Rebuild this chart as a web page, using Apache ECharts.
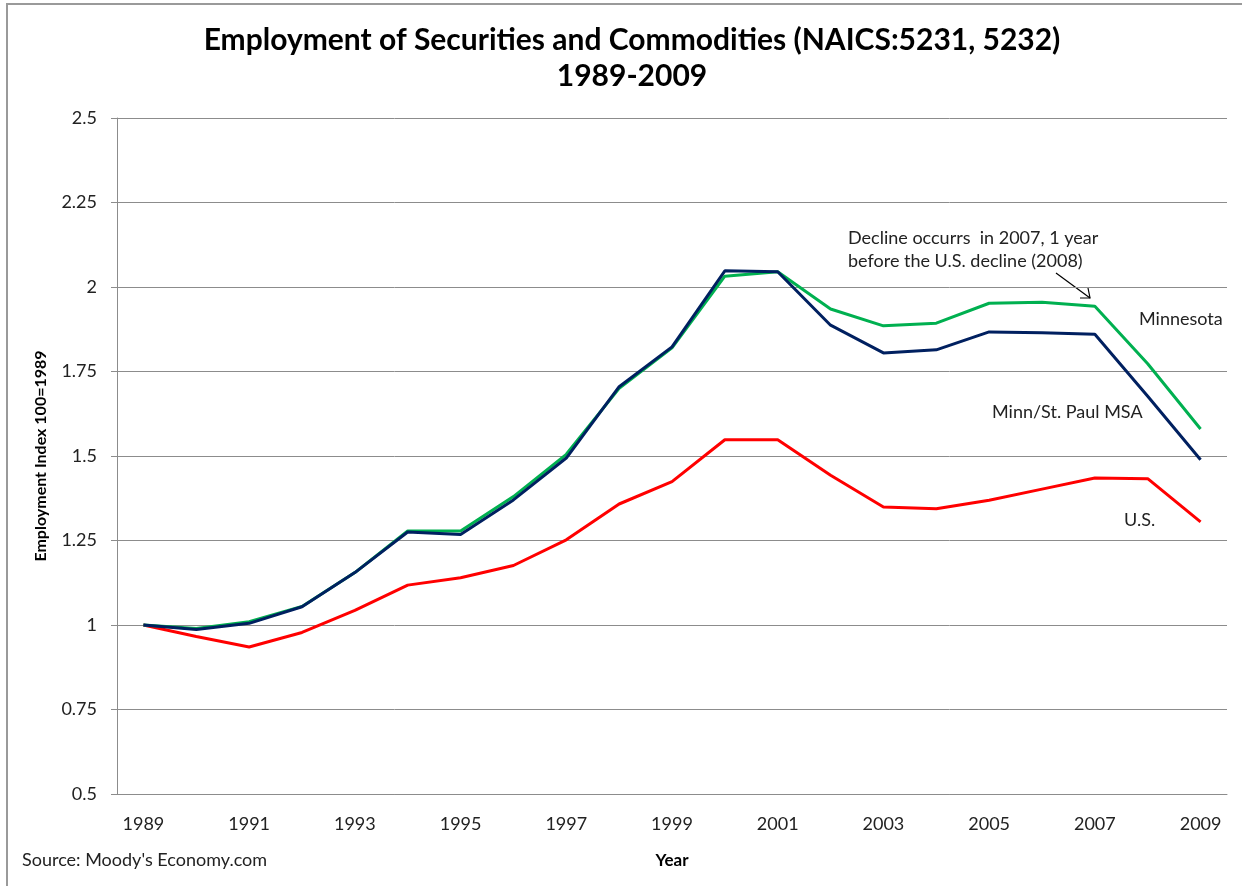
<!DOCTYPE html>
<html>
<head>
<meta charset="utf-8">
<script src="https://cdn.jsdelivr.net/npm/echarts@6/dist/echarts.min.js"></script>
<style>
  html, body { margin: 0; padding: 0; background: #fff; }
  #chart { width: 1242px; height: 886px; }
</style>
</head>
<body>
<div id="chart"></div>
<script>
// chart data
const years = ['1989', '1990', '1991', '1992', '1993', '1994', '1995', '1996', '1997', '1998', '1999',
  '2000', '2001', '2002', '2003', '2004', '2005', '2006', '2007', '2008', '2009'];
const usIndex = [1.0, 0.966, 0.935, 0.978, 1.043, 1.118, 1.14, 1.176, 1.252, 1.358, 1.424,
  1.548, 1.548, 1.443, 1.349, 1.344, 1.369, 1.402, 1.435, 1.433, 1.305];
const minnesotaIndex = [1.0, 0.99, 1.01, 1.055, 1.155, 1.278, 1.278, 1.38, 1.505, 1.70, 1.82,
  2.032, 2.045, 1.935, 1.885, 1.893, 1.952, 1.955, 1.943, 1.773, 1.58];
const msaIndex = [1.0, 0.987, 1.005, 1.054, 1.155, 1.275, 1.268, 1.37, 1.494, 1.705, 1.823,
  2.048, 2.045, 1.887, 1.805, 1.814, 1.867, 1.865, 1.86, 1.677, 1.489];
const yTicks = { min: 0.5, max: 2.5, step: 0.25 };

const font = 'Lato, "Open Sans", sans-serif';
const grey = '#8c8c8c';

const chart = echarts.init(document.getElementById('chart'));

const lineSeries = (name, data, color) => ({
  name,
  type: 'line',
  data,
  symbol: 'none',
  lineStyle: { color, width: 3 },
  itemStyle: { color },
  animation: false,
});

chart.setOption({
  backgroundColor: '#fff',
  textStyle: { fontFamily: font },
  title: {
    text: 'Employment of Securities and Commodities (NAICS:5231, 5232)\n1989-2009',
    left: 627,
    textAlign: 'center',
    top: 17,
    textStyle: { fontFamily: font, fontSize: 30, fontWeight: 'bold', color: '#000', lineHeight: 36 },
  },
  grid: { left: 117, right: 15, top: 118, bottom: 92, containLabel: false },
  xAxis: {
    type: 'category',
    data: years,
    boundaryGap: true,
    name: 'Year',
    nameLocation: 'middle',
    nameGap: 58,
    nameTextStyle: { fontFamily: font, fontSize: 17, fontWeight: 'bold', color: '#000' },
    axisLine: { lineStyle: { color: grey, width: 1 } },
    axisTick: { show: false },
    axisLabel: { interval: 1, margin: 21, fontSize: 18, color: '#222', fontFamily: font },
    splitLine: { show: false },
  },
  yAxis: {
    type: 'value',
    min: yTicks.min,
    max: yTicks.max,
    interval: yTicks.step,
    name: 'Employment Index 100=1989',
    nameLocation: 'middle',
    nameGap: 68,
    nameTextStyle: { fontFamily: font, fontSize: 16, fontWeight: 'bold', color: '#000' },
    axisLine: { show: true, lineStyle: { color: grey, width: 1 } },
    axisTick: { show: true, length: 6, lineStyle: { color: grey } },
    axisLabel: { margin: 20, fontSize: 18, color: '#222', fontFamily: font },
    splitLine: { lineStyle: { color: grey, width: 1 } },
  },
  series: [
    lineSeries('U.S.', usIndex, '#ff0000'),
    lineSeries('Minnesota', minnesotaIndex, '#00b050'),
    lineSeries('Minn/St. Paul MSA', msaIndex, '#002060'),
  ],
  graphic: [
    { type: 'rect', silent: true, shape: { x: 7, y: 4, width: 1260, height: 900 },
      style: { fill: 'none', stroke: '#9a9a9a', lineWidth: 2 } },
    { type: 'text', left: 22, top: 851,
      style: { text: "Source: Moody's Economy.com", font: '18px ' + font, fill: '#222' } },
    { type: 'text', left: 848, top: 227,
      style: { text: 'Decline occurrs  in 2007, 1 year\nbefore the U.S. decline (2008)', font: '18px ' + font,
        fill: '#222', lineHeight: 23 } },
    { type: 'text', left: 1139, top: 310,
      style: { text: 'Minnesota', font: '18px ' + font, fill: '#222' } },
    { type: 'text', left: 992, top: 403,
      style: { text: 'Minn/St. Paul MSA', font: '18px ' + font, fill: '#222' } },
    { type: 'text', left: 1124, top: 511,
      style: { text: 'U.S.', font: '18px ' + font, fill: '#222' } },
    { type: 'line', shape: { x1: 1056, y1: 273, x2: 1090, y2: 298 },
      style: { stroke: '#000', lineWidth: 1.2 } },
    { type: 'polyline', shape: { points: [[1080, 298], [1090, 298], [1088, 288]] },
      style: { stroke: '#000', fill: 'none', lineWidth: 1.2 } },
  ],
});
</script>
</body>
</html>
